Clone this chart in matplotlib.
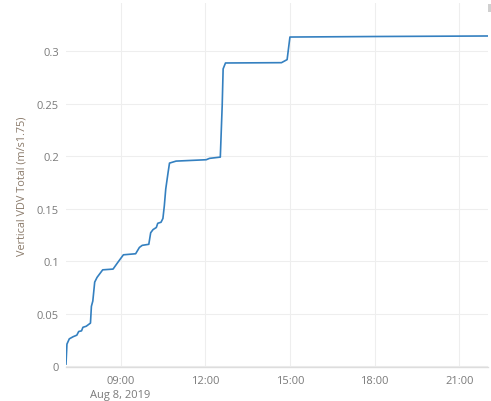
import matplotlib
matplotlib.use("Agg")
import matplotlib.pyplot as plt
import matplotlib.dates as mdates
import pandas as pd
from matplotlib.ticker import FixedLocator, FuncFormatter
from matplotlib.patches import Rectangle

# ---- data ----
times = ["07:04", "07:06", "07:11", "07:19", "07:27", "07:31", "07:37", "07:40",
         "07:47", "07:56", "07:58", "08:01", "08:05", "08:10", "08:22", "08:44",
         "08:54", "09:06", "09:32", "09:40", "09:46", "10:00", "10:04", "10:09",
         "10:16", "10:19", "10:26", "10:30", "10:33", "10:36", "10:41", "10:44",
         "10:58", "12:02", "12:09", "12:32", "12:36", "12:38", "12:43", "14:42",
         "14:54", "15:00", "18:00", "22:01"]
values = [0.002, 0.021, 0.026, 0.028, 0.0295, 0.033, 0.0336, 0.037,
          0.038, 0.041, 0.057, 0.062, 0.080, 0.0845, 0.0917, 0.0924,
          0.0987, 0.106, 0.107, 0.113, 0.115, 0.116, 0.127, 0.130,
          0.132, 0.136, 0.137, 0.1406, 0.1527, 0.1686, 0.1844, 0.1933,
          0.1952, 0.1965, 0.1978, 0.1990, 0.248, 0.283, 0.2886, 0.2889,
          0.2918, 0.3133, 0.3138, 0.3143]
date = "2019-08-08"
x_ticks = ["09:00", "12:00", "15:00", "18:00", "21:00"]
y_ticks = [0, 0.05, 0.1, 0.15, 0.2, 0.25, 0.3]
y_tick_labels = ["0", "0.05", "0.1", "0.15", "0.2", "0.25", "0.3"]
y_label = "Vertical VDV Total (m/s1.75)"
date_label = "Aug 8, 2019"

plt.rcParams['font.family'] = ['Open Sans', 'DejaVu Sans']

t = pd.to_datetime([f"{date} {s}" for s in times])
tick_t = pd.to_datetime([f"{date} {s}" for s in x_ticks])

fig = plt.figure(figsize=(4.91, 4.02), dpi=100)
ax = fig.add_axes([66 / 491, 34 / 402, 422 / 491, 364 / 402])

ax.plot(t, values, color="#3480c0", lw=1.2, solid_joinstyle="round")

ax.set_xlim(t[0], t[-1])
ax.set_ylim(-0.0008, 0.3457)

ax.xaxis.set_major_locator(FixedLocator(mdates.date2num(tick_t)))
def fmt(v, pos):
    s = mdates.num2date(v).strftime("%H:%M")
    return s + "\n" + date_label if pos == 0 else s
ax.xaxis.set_major_formatter(FuncFormatter(fmt))
ax.set_yticks(y_ticks)
ax.set_yticklabels(y_tick_labels)

ax.tick_params(axis="both", length=0, labelsize=8, labelcolor="#7a7a7a")
ax.tick_params(axis="x", pad=6)
ax.tick_params(axis="y", pad=5)
for lab in ax.get_xticklabels():
    lab.set_linespacing(1.3)

ax.grid(True, color="#eeeeee", lw=0.8)
ax.set_axisbelow(True)
for side in ["top", "right", "left"]:
    ax.spines[side].set_visible(False)
ax.spines["bottom"].set_color("#dddddd")
ax.spines["bottom"].set_linewidth(1.0)

fig.text(22 / 491, 1 - 186 / 402, y_label, rotation=90, ha="center", va="center",
         fontsize=7.8, color="#8a7a6a")

# small scrollbar-like mark in the top-right corner
fig.patches.append(Rectangle((488 / 491, 1 - 13 / 402), 3 / 491, 8 / 402,
                             transform=fig.transFigure, color="#d0d0d0", lw=0))

fig.savefig("out.png", dpi=100)
